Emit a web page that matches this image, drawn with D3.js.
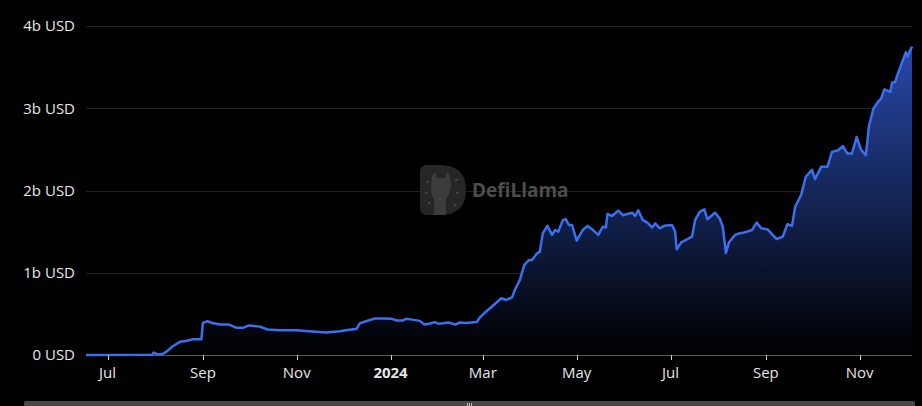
<!DOCTYPE html>
<html>
<head>
<meta charset="utf-8">
<script src="https://cdn.jsdelivr.net/npm/d3@7"></script>
<style>
  html, body { margin: 0; padding: 0; background: #000; }
  svg { display: block; }
</style>
</head>
<body>
<svg id="chart" width="922" height="406"></svg>
<script>
// ---- data (TVL in billions of USD) ----
const dates = [
  "2023-06-17","2023-07-30","2023-07-31","2023-08-03","2023-08-06","2023-08-09","2023-08-12","2023-08-17",
  "2023-08-21","2023-08-25","2023-08-31","2023-09-01","2023-09-04","2023-09-07","2023-09-12","2023-09-18",
  "2023-09-23","2023-09-27","2023-10-01","2023-10-08","2023-10-13","2023-10-21","2023-11-01","2023-11-09",
  "2023-11-20","2023-11-29","2023-12-03","2023-12-10","2023-12-12","2023-12-16","2023-12-22","2023-12-27",
  "2024-01-02","2024-01-05","2024-01-09","2024-01-11","2024-01-15","2024-01-20","2024-01-23","2024-01-26",
  "2024-01-30","2024-02-01","2024-02-04","2024-02-08","2024-02-12","2024-02-15","2024-02-19","2024-02-26",
  "2024-02-28","2024-03-02","2024-03-07","2024-03-13","2024-03-16","2024-03-20","2024-03-22","2024-03-25",
  "2024-03-28","2024-03-31","2024-04-02","2024-04-05","2024-04-07","2024-04-09","2024-04-12","2024-04-15",
  "2024-04-17","2024-04-19","2024-04-22","2024-04-24","2024-04-26","2024-04-28","2024-05-01","2024-05-05",
  "2024-05-08","2024-05-11","2024-05-15","2024-05-18","2024-05-20","2024-05-21","2024-05-24","2024-05-28",
  "2024-05-31","2024-06-06","2024-06-08","2024-06-10","2024-06-13","2024-06-16","2024-06-19","2024-06-21",
  "2024-06-24","2024-06-27","2024-07-02","2024-07-04","2024-07-05","2024-07-08","2024-07-12","2024-07-15",
  "2024-07-17","2024-07-20","2024-07-23","2024-07-25","2024-07-30","2024-08-02","2024-08-04","2024-08-06",
  "2024-08-08","2024-08-12","2024-08-15","2024-08-18","2024-08-23","2024-08-26","2024-08-29","2024-09-02",
  "2024-09-08","2024-09-12","2024-09-15","2024-09-18","2024-09-20","2024-09-24","2024-09-27","2024-10-01",
  "2024-10-03","2024-10-07","2024-10-11","2024-10-14","2024-10-18","2024-10-21","2024-10-24","2024-10-27",
  "2024-10-30","2024-11-02","2024-11-05","2024-11-07","2024-11-10","2024-11-13","2024-11-15","2024-11-17",
  "2024-11-21","2024-11-22","2024-11-24","2024-11-26","2024-11-28","2024-12-01","2024-12-02","2024-12-05"
];
const tvl = [
  0.0,0.003,0.03,0.005,0.015,0.05,0.1,0.16,
  0.17,0.19,0.19,0.39,0.41,0.39,0.37,0.37,
  0.33,0.33,0.36,0.345,0.31,0.30,0.30,0.29,
  0.275,0.29,0.30,0.32,0.385,0.41,0.445,0.445,
  0.44,0.42,0.42,0.44,0.43,0.415,0.37,0.38,
  0.40,0.38,0.385,0.395,0.37,0.395,0.39,0.40,
  0.455,0.51,0.59,0.69,0.67,0.70,0.80,0.91,
  1.095,1.155,1.155,1.23,1.257,1.48,1.57,1.46,
  1.52,1.50,1.64,1.65,1.58,1.58,1.39,1.52,
  1.57,1.53,1.46,1.56,1.55,1.715,1.69,1.755,
  1.70,1.73,1.69,1.76,1.64,1.61,1.55,1.60,
  1.54,1.57,1.58,1.50,1.285,1.37,1.41,1.44,
  1.64,1.74,1.77,1.65,1.73,1.66,1.56,1.24,
  1.37,1.46,1.48,1.49,1.52,1.61,1.54,1.53,
  1.41,1.44,1.59,1.57,1.80,1.95,2.17,2.25,
  2.14,2.29,2.29,2.47,2.49,2.54,2.45,2.45,
  2.65,2.49,2.43,2.78,3.0,3.08,3.12,3.23,
  3.20,3.31,3.32,3.43,3.53,3.68,3.63,3.75
];
const yTicks = [0, 1, 2, 3, 4];
const yTickLabels = ["0 USD", "1b USD", "2b USD", "3b USD", "4b USD"];
const xTickDates = ["2023-07-01","2023-09-01","2023-11-01","2024-01-01","2024-03-01","2024-05-01","2024-07-01","2024-09-01","2024-11-01"];
const xTickLabels = ["Jul","Sep","Nov","2024","Mar","May","Jul","Sep","Nov"];
const xTickBold = [false,false,false,true,false,false,false,false,false];

(function () {
// ---- layout ----
const svg = d3.select("#chart");
const mLeft = 86, mRight = 912, mTop = 26, mBottom = 355;
const parse = d3.utcParse("%Y-%m-%d");
const data = dates.map((d, i) => ({ date: parse(d), v: tvl[i] }));

const x = d3.scaleUtc().domain([parse("2023-06-17"), parse("2024-12-05")]).range([mLeft, mRight]);
const y = d3.scaleLinear().domain([0, 4]).range([mBottom, mTop]);

svg.append("rect").attr("width", 922).attr("height", 406).attr("fill", "#000");

const font = "'Open Sans', 'Noto Sans', sans-serif";

// grid
svg.append("g").selectAll("line").data(yTicks.filter(t => t > 0)).join("line")
  .attr("x1", mLeft).attr("x2", mRight)
  .attr("y1", d => Math.round(y(d)) + 0.5).attr("y2", d => Math.round(y(d)) + 0.5)
  .attr("stroke", "#1f1f1f").attr("stroke-width", 1);

// y labels
svg.append("g").selectAll("text").data(yTicks).join("text")
  .attr("x", 75).attr("y", d => y(d)).attr("dy", "0.35em")
  .attr("text-anchor", "end").attr("fill", "#e6e6e6")
  .style("font-family", font).style("font-size", "15px")
  .text((d, i) => yTickLabels[i]);

// watermark
const wm = svg.append("g");
wm.append("path")
  .attr("d", "M420,172 Q420,165 427,165 L440,165 Q466,165 466,190 Q466,215 440,215 L427,215 Q420,215 420,208 Z")
  .attr("fill", "#262626");
wm.append("path")
  .attr("d", "M432,176 L435,172 L437,178 L445,178 L447,172 L450,176 L451,186 Q449,196 446,199 L446,215 L434,215 L434,199 Q431,196 431,186 Z")
  .attr("fill", "#3c3c3c");
[[426,181,429,183],[425,193,428,193],[428,204,430,202],[455,181,458,179],[456,193,459,193],[454,204,456,206]].forEach(s => {
  wm.append("line").attr("x1", s[0]).attr("y1", s[1]).attr("x2", s[2]).attr("y2", s[3])
    .attr("stroke", "#4a4a4a").attr("stroke-width", 1.5);
});
wm.append("text").attr("x", 472).attr("y", 197)
  .attr("fill", "#4d4d4d").style("font-family", font)
  .style("font-size", "19px").style("font-weight", "700")
  .text("DefiLlama");

// area gradient
const defs = svg.append("defs");
const grad = defs.append("linearGradient").attr("id", "areaGrad")
  .attr("gradientUnits", "userSpaceOnUse")
  .attr("x1", 0).attr("x2", 0).attr("y1", mTop).attr("y2", mBottom);
grad.append("stop").attr("offset", "0%").attr("stop-color", "#2a4db4");
grad.append("stop").attr("offset", "100%").attr("stop-color", "#000000");

const area = d3.area().x(d => x(d.date)).y0(mBottom).y1(d => y(d.v)).curve(d3.curveLinear);
svg.append("path").datum(data).attr("d", area).attr("fill", "url(#areaGrad)");

// x axis line
svg.append("line").attr("x1", mLeft).attr("x2", mRight).attr("y1", mBottom + 0.5).attr("y2", mBottom + 0.5)
  .attr("stroke", "#5a5a5a").attr("stroke-width", 1);

const line = d3.line().x(d => x(d.date)).y(d => y(d.v)).curve(d3.curveLinear);
svg.append("path").datum(data).attr("d", line)
  .attr("fill", "none").attr("stroke", "#3a6ff0").attr("stroke-width", 2.5)
  .attr("stroke-linejoin", "round");

const xt = svg.append("g");
xt.selectAll("line").data(xTickDates).join("line")
  .attr("x1", d => Math.round(x(parse(d))) + 0.5).attr("x2", d => Math.round(x(parse(d))) + 0.5)
  .attr("y1", mBottom).attr("y2", mBottom + 5)
  .attr("stroke", "#cfcfcf").attr("stroke-width", 1);
xt.selectAll("text").data(xTickDates).join("text")
  .attr("x", d => x(parse(d))).attr("y", 373).attr("dy", "0.35em")
  .attr("text-anchor", "middle").attr("fill", "#e6e6e6")
  .style("font-family", font).style("font-size", "15px")
  .style("font-weight", (d, i) => xTickBold[i] ? "700" : "400")
  .text((d, i) => xTickLabels[i]);

// bottom scrollbar
svg.append("rect").attr("x", 24).attr("y", 401).attr("width", 891).attr("height", 8)
  .attr("rx", 2).attr("fill", "#474747");
[-2, 0, 2].forEach(o => {
  svg.append("line").attr("x1", 469 + o + 0.5).attr("x2", 469 + o + 0.5).attr("y1", 403).attr("y2", 406)
    .attr("stroke", "#bbbbbb").attr("stroke-width", 1);
});
})();
</script>
</body>
</html>
